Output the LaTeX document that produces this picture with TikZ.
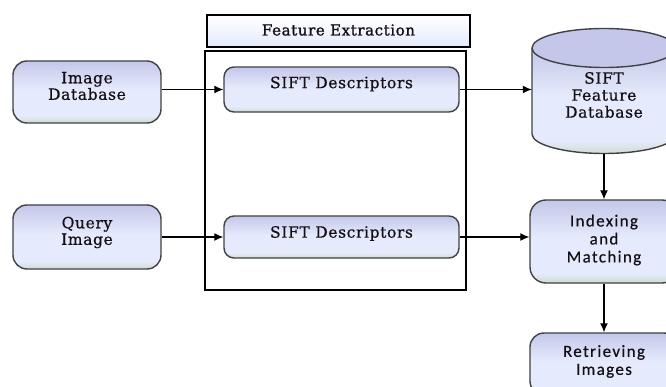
\documentclass[tikz,border=0pt]{standalone}
\usepackage{fontspec}
\usetikzlibrary{arrows.meta}
\newfontfamily\serf[LetterSpace=4,FakeBold=0.6]{DejaVu Serif}
\newfontfamily\serfb[LetterSpace=4,FakeBold=1.3]{DejaVu Serif}
\newfontfamily\sanf[LetterSpace=8,FakeBold=0.4]{Carlito}
\definecolor{tc}{RGB}{196,199,233}
\definecolor{mc}{RGB}{229,235,252}
\definecolor{bc}{RGB}{208,220,208}
\definecolor{bd}{RGB}{65,65,70}
\definecolor{tx}{RGB}{20,15,20}
\pgfdeclareverticalshading{boxsh}{100bp}{color(0bp)=(bc); color(25bp)=(bc); color(31bp)=(mc); color(52bp)=(mc); color(75bp)=(tc); color(100bp)=(tc)}
\pgfdeclareverticalshading{titsh}{100bp}{color(0bp)=(mc); color(25bp)=(mc); color(75bp)=(white); color(100bp)=(white)}
\tikzset{
  box/.style={draw=bd, line width=1.4pt, rounded corners=14pt, shade, shading=boxsh, inner sep=0pt},
  sbox/.style={box, rounded corners=10pt},
  stxt/.style={font=\serf\fontsize{15.5}{16.5}\selectfont, text=tx, align=center, inner sep=0pt},
  atxt/.style={font=\sanf\fontsize{17}{18}\selectfont, text=tx, align=center, inner sep=0pt},
  conn/.style={draw=black, line width=1.2pt, -{Latex[length=9pt,width=8pt]}},
}
\begin{document}
\begin{tikzpicture}[x=1pt,y=1pt]
\useasboundingbox (0,0) rectangle (666,-387);
\clip (0,0) rectangle (666,-387);
% frame and title
\node[draw=black, line width=1.3pt, minimum width=261pt, minimum height=239pt, inner sep=0pt] (frame) at (335.5,-170.5) {};
\node[draw=black, line width=1.3pt, shade, shading=titsh, minimum width=263pt, minimum height=32pt, inner sep=0pt] (title) at (338.5,-31) {};
\node[stxt, font=\serfb\fontsize{15}{16}\selectfont] (titlet) at (338.5,-30) {Feature Extraction};
% left boxes
\node[box, minimum width=148pt, minimum height=62pt] (imgdb) at (87,-92) {};
\node[stxt] (imgdbt) at (87,-86) {Image\\Database};
\node[box, minimum width=148pt, minimum height=64pt] (query) at (87,-237) {};
\node[stxt] (queryt) at (87,-232.5) {Query\\Image};
% SIFT descriptor boxes
\node[sbox, minimum width=235pt, minimum height=45pt] (sift1) at (341.5,-89.5) {};
\node[stxt] (sift1t) at (341.5,-84) {SIFT Descriptors};
\node[sbox, minimum width=235pt, minimum height=42pt] (sift2) at (341.5,-237) {};
\node[stxt] (sift2t) at (341.5,-233.5) {SIFT Descriptors};
% cylinder
\path[shade, shading=boxsh] (532,-48) -- (532,-134) arc[start angle=180, end angle=360, x radius=72pt, y radius=19.5pt] -- (676,-48) -- cycle;
\draw[draw=bd, line width=1.4pt] (532,-48) -- (532,-134) arc[start angle=180, end angle=360, x radius=72pt, y radius=19.5pt] -- (676,-48);
\draw[draw=bd, line width=1.4pt, fill=tc] (604,-48) ellipse[x radius=72pt, y radius=19.5pt];
\node[minimum width=144pt, minimum height=125.5pt, inner sep=0pt] (cyl) at (604,-90.75) {};
\node[stxt, font=\serf\fontsize{15.5}{17}\selectfont] (cylt) at (604,-95) {SIFT\\Feature\\Database};
% right boxes
\node[box, rounded corners=16pt, minimum width=148pt, minimum height=83pt] (index) at (604,-241.5) {};
\node[atxt] (indext) at (604,-240) {Indexing\\and\\Matching};
\node[box, minimum width=148pt, minimum height=62pt] (retr) at (604,-364) {};
\node[atxt] (retrt) at (604,-361.5) {Retrieving\\Images};
% connectors
\draw[conn] (imgdb.east |- sift1.west) -- (sift1.west);
\draw[conn] (sift1.east) -- (sift1.east -| cyl.west);
\draw[conn] (query.east) -- (sift2.west);
\draw[conn] (sift2.east) -- (sift2.east -| index.west);
\draw[conn] (cyl.south) -- (index.north);
\draw[conn] (index.south) -- (retr.north);
\end{tikzpicture}
\end{document}
